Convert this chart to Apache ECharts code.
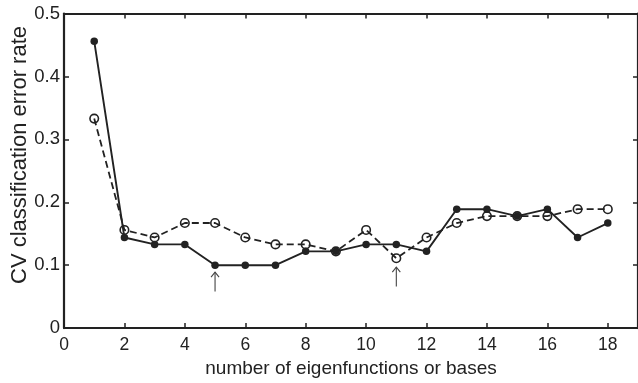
<!DOCTYPE html>
<html>
<head>
<meta charset="utf-8">
<script src="https://cdn.jsdelivr.net/npm/echarts@6/dist/echarts.min.js"></script>
<style>
html,body{margin:0;padding:0;background:#fff;}
#chart{width:638px;height:383px;}
</style>
</head>
<body>
<div id="chart"></div>
<script>
const xValues = [1,2,3,4,5,6,7,8,9,10,11,12,13,14,15,16,17,18];
const solidErr = [0.456,0.144,0.133,0.133,0.100,0.100,0.100,0.122,0.122,0.133,0.133,0.122,0.189,0.189,0.178,0.189,0.144,0.167];
const dashedErr = [0.333,0.156,0.144,0.167,0.167,0.144,0.133,0.133,0.122,0.156,0.111,0.144,0.167,0.178,0.178,0.178,0.189,0.189];
const arrowX = [5, 11];
const arrowTip = [0.089, 0.097];
const arrowBase = [0.058, 0.066];
const xTitle = 'number of eigenfunctions or bases';
const yTitle = 'CV classification error rate';

const FONT = "'Liberation Sans', Arial, Helvetica, sans-serif";
const INK = '#222';
const chart = echarts.init(document.getElementById('chart'), null, {renderer:'canvas'});

function axisBase(extra){
  return Object.assign({
    axisLine:{show:true, onZero:false, lineStyle:{color:INK, width:2.2}},
    axisTick:{show:true, inside:true, length:5, lineStyle:{color:INK, width:1.5}},
    splitLine:{show:false}
  }, extra);
}

chart.setOption({
  animation:false,
  backgroundColor:'#fff',
  grid:{left:64, right:-3, top:13.5, bottom:47.5, containLabel:false},
  xAxis:[
    axisBase({type:'value', min:0, max:19, interval:2, position:'bottom',
      name:xTitle, nameLocation:'middle', nameGap:28,
      nameTextStyle:{fontFamily:FONT, fontSize:19, color:INK},
      axisLabel:{margin:8, fontFamily:FONT, fontSize:17.5, color:INK, showMaxLabel:false,
        formatter:v=> (v===19?'':String(v))}}),
    axisBase({type:'value', min:0, max:19, interval:2, position:'top', axisLabel:{show:false}})
  ],
  yAxis:[
    axisBase({type:'value', min:0, max:0.5, interval:0.1, position:'left',
      axisLabel:{margin:4, fontFamily:FONT, fontSize:18.5, color:INK,
        formatter:v=> (v===0?'0':v.toFixed(1))}}),
    axisBase({type:'value', min:0, max:0.5, interval:0.1, position:'right', axisLabel:{show:false}})
  ],
  series:[
    {type:'line', xAxisIndex:0, yAxisIndex:0,
      data:xValues.map((x,i)=>[x, dashedErr[i]]),
      symbol:'circle', symbolSize:8.5, z:3,
      lineStyle:{color:INK, width:1.8, type:[7,4]},
      itemStyle:{color:'rgba(0,0,0,0)', borderColor:INK, borderWidth:1.6}},
    {type:'line', xAxisIndex:0, yAxisIndex:0,
      data:xValues.map((x,i)=>[x, solidErr[i]]),
      symbol:'circle', symbolSize:7.5, z:4,
      lineStyle:{color:INK, width:1.9},
      itemStyle:{color:INK, borderWidth:0}}
  ]
});

const graphics = [];
arrowX.forEach((x,i)=>{
  const tip = chart.convertToPixel({gridIndex:0}, [x, arrowTip[i]]);
  const base = chart.convertToPixel({gridIndex:0}, [x, arrowBase[i]]);
  graphics.push({type:'polyline', shape:{points:[[base[0],base[1]],[tip[0],tip[1]]]},
    style:{stroke:'#444', lineWidth:1.1, fill:null}, z:10});
  graphics.push({type:'polyline', shape:{points:[[tip[0]-4,tip[1]+5],[tip[0],tip[1]],[tip[0]+4,tip[1]+5]]},
    style:{stroke:'#444', lineWidth:1.1, fill:null}, z:10});
});
graphics.push({type:'text', x:20, y:155, rotation:Math.PI/2,
  style:{text:yTitle, fontFamily:FONT, fontSize:22, fill:INK, textAlign:'center', textVerticalAlign:'middle'}});
chart.setOption({graphic:graphics});
</script>
</body>
</html>
